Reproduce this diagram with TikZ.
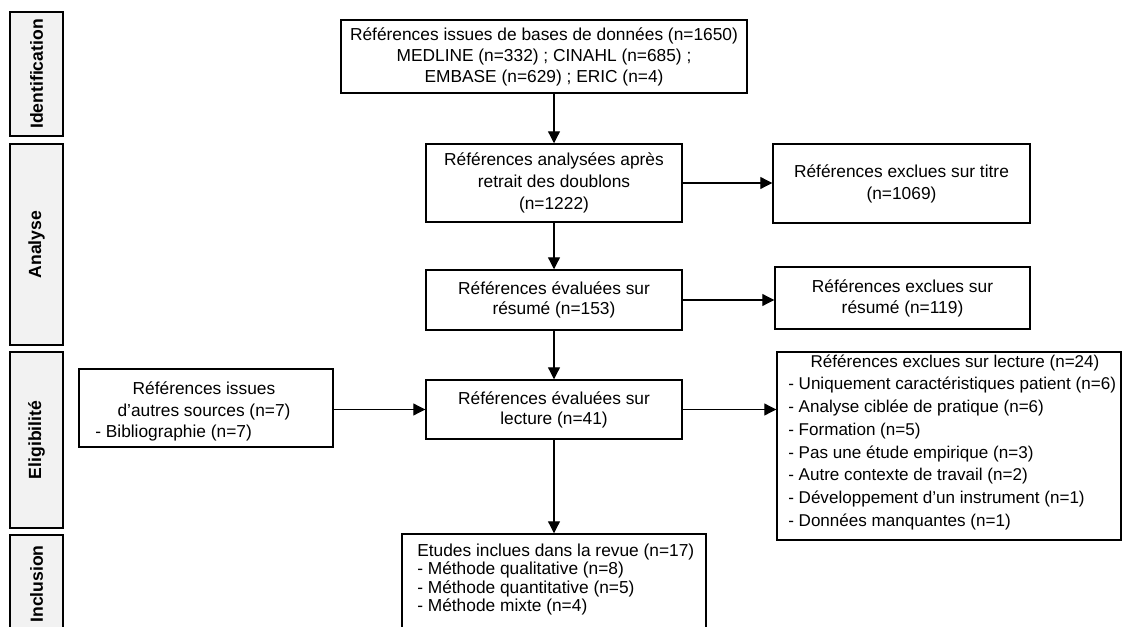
\documentclass[tikz,border=0pt]{standalone}
\usepackage{fontspec}
\setmainfont{Liberation Sans}
\usetikzlibrary{arrows.meta,shadows}
\begin{document}
\begin{tikzpicture}[x=0.75pt,y=-0.75pt,
  every node/.style={font=\fontsize{13}{16}\selectfont, inner sep=0pt},
  box/.style={draw=black, line width=1.1pt, fill=white,
    drop shadow={shadow xshift=0.8pt,shadow yshift=-0.8pt,fill=black!50,opacity=1}},
  lab/.style={box, fill=black!5, minimum width=39.75pt},
  labtxt/.style={rotate=90, font=\fontsize{13.2}{16}\selectfont\bfseries},
  txt/.style={align=center},
  arr/.style={line width=0.9pt, -{Triangle[length=9pt,width=9pt]}},
]
\useasboundingbox (0,0) rectangle (1124,627);
\clip (0,0) rectangle (1124,627);

% phase labels
\node[lab, minimum height=93pt]     (lid) at (36.5,74) {};
\node[labtxt] (tid) at (lid) {Identification};
\node[lab, minimum height=150.75pt] (lan) at (36.5,244.5) {};
\node[labtxt] (tan) at (lan) {Analyse};
\node[lab, minimum height=132pt]    (lel) at (36.5,440) {};
\node[labtxt] (tel) at (lel) {Eligibilité};
\node[lab, minimum height=93.75pt]  (lin) at (36.5,597.5) {};
\node[labtxt] (tin) at (36.5,584) {Inclusion};

% main boxes
\node[box, txt, minimum width=304.5pt, minimum height=54.75pt, font=\fontsize{13}{15.75}\selectfont] (top) at (544,56.5)
  {Références issues de bases de données (n=1650)\\MEDLINE (n=332) ; CINAHL (n=685) ;\\EMBASE (n=629) ; ERIC (n=4)};
\node[box, txt, minimum width=192pt, minimum height=58.5pt, font=\fontsize{13}{16.5}\selectfont] (b2) at (554,183)
  {Références analysées après\\retrait des doublons\\(n=1222)};
\node[box, txt, minimum width=192.75pt, minimum height=59.25pt, font=\fontsize{13}{16.5}\selectfont] (r1) at (901.5,183.5)
  {Références exclues sur titre\\(n=1069)};
\node[box, txt, minimum width=192pt, minimum height=45pt, font=\fontsize{13}{15}\selectfont] (b3) at (554,300)
  {Références évaluées sur\\résumé (n=153)};
\node[box, txt, minimum width=191.25pt, minimum height=46.5pt, font=\fontsize{13}{15.75}\selectfont] (r2) at (902.5,298)
  {Références exclues sur\\résumé (n=119)};
\node[box, txt, minimum width=192pt, minimum height=44.25pt, font=\fontsize{13}{15}\selectfont] (b4) at (554,409.5)
  {Références évaluées sur\\lecture (n=41)};

% left box
\node[box, minimum width=190.5pt, minimum height=58.5pt] (lft) at (206,408) {};
\node[txt, font=\fontsize{13}{16.1}\selectfont] (lftA) at (204,401) {Références issues\\d’autres sources (n=7)};
\node[anchor=west] (lftB) at (95,433) {- Bibliographie (n=7)};

% right big box
\node[box, minimum width=258pt, minimum height=141pt] (r3) at (949,446) {};
\node[font=\fontsize{12.8}{16}\selectfont] (r3t) at (955,363) {Références exclues sur lecture (n=24)};
\node[anchor=west, align=left, font=\fontsize{12.8}{17.1}\selectfont] (r3l) at (788,453.5)
  {- Uniquement caractéristiques patient (n=6)\\
   - Analyse ciblée de pratique (n=6)\\
   - Formation (n=5)\\
   - Pas une étude empirique (n=3)\\
   - Autre contexte de travail (n=2)\\
   - Développement d’un instrument (n=1)\\
   - Données manquantes (n=1)};

% bottom box
\node[box, minimum width=228pt, minimum height=94.5pt] (b5) at (554,597) {};
\node[anchor=west, align=left, font=\fontsize{13}{13.7}\selectfont] (b5t) at (417,579.5)
  {Etudes inclues dans la revue (n=17)\\
   - Méthode qualitative (n=8)\\
   - Méthode quantitative (n=5)\\
   - Méthode mixte (n=4)};

% connectors
\draw[arr] (top.south -| b2.north) -- (b2.north);
\draw[arr] (b2.east) -- (b2.east -| r1.west);
\draw[arr] (b2.south) -- (b3.north);
\draw[arr] (b3.east) -- (b3.east -| r2.west);
\draw[arr] (b3.south) -- (b4.north);
\draw[arr] (lft.east |- b4.west) -- (b4.west);
\draw[arr] (b4.east) -- (b4.east -| r3.west);
\draw[arr] (b4.south) -- (b5.north);
\end{tikzpicture}
\end{document}
